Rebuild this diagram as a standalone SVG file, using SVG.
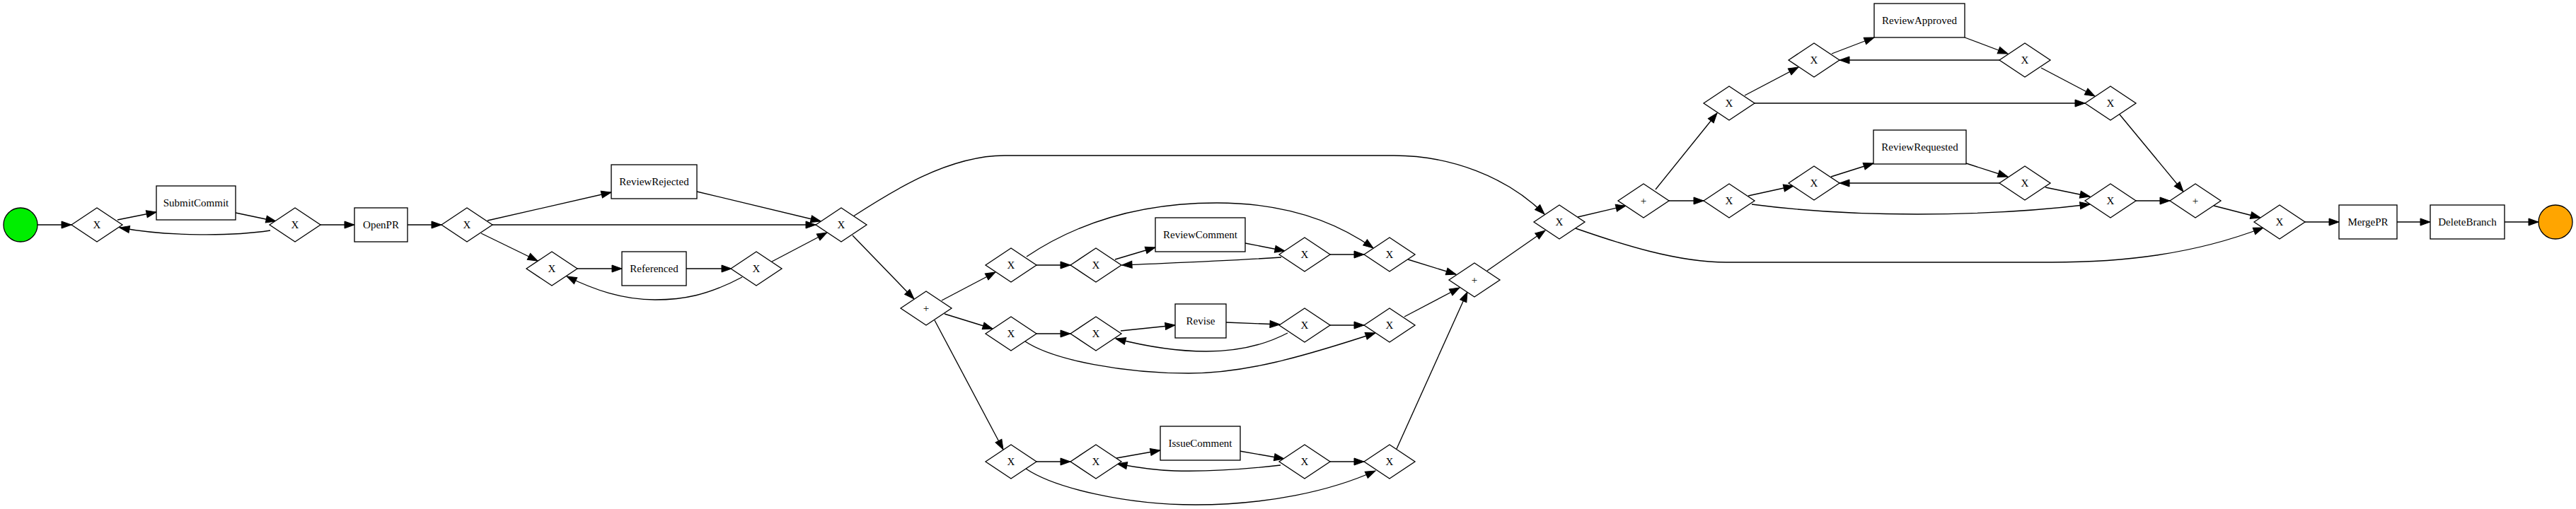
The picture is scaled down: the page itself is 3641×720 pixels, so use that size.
<svg xmlns="http://www.w3.org/2000/svg" xmlns:xlink="http://www.w3.org/1999/xlink" width="3641" height="720" viewBox="0 0 3641 720">
<style>
.g polygon,.g rect{fill:#fff;stroke:#000;stroke-width:1.33}
.g use{fill:#fff;stroke:#000;stroke-width:1.33}
.g text{font-family:"Liberation Serif","Times New Roman",serif;font-size:15px;text-anchor:middle;fill:#000}
#edges path{fill:none;stroke:#000;stroke-width:1.33;marker-end:url(#arr)}
</style>
<defs>
<marker id="arr" markerUnits="userSpaceOnUse" markerWidth="16" markerHeight="12" viewBox="-1 -1 16 12" refX="14" refY="5" orient="auto">
<path d="M0,0 L14,5 L0,10 z" fill="#000" stroke="#000" stroke-width="1"/>
</marker>
<polygon id="dia" points="-36,0 0,-24 36,0 0,24"/>
</defs>
<rect width="3641" height="720" fill="#fff"/>
<g id="edges">
<path d="M53,318 L101,318"/>
<path d="M166,311 L221,300"/>
<path d="M333,301 L390,313"/>
<path d="M382,326 C330,334 240,335 169,322"/>
<path d="M453,318 L501,318"/>
<path d="M576,318 L624,318"/>
<path d="M689,312 L864,272"/>
<path d="M696,318 L1153,318"/>
<path d="M680,330 L760,369"/>
<path d="M985,271 L1160,313"/>
<path d="M816,380 L879,380"/>
<path d="M970,380 L1034,380"/>
<path d="M1091,370 L1169,329"/>
<path d="M1049,392 C1000,418 965,424 926,424 C880,424 840,410 801,391"/>
<path d="M1206,306 C1260,271 1340,220 1420,220 L1970,220 C2050,220 2130,250 2183,303"/>
<path d="M1205,333 L1292,423"/>
<path d="M1331,425 L1407,385"/>
<path d="M1335,444 L1403,465"/>
<path d="M1321,453 L1418,636"/>
<path d="M1465,375 L1513,375"/>
<path d="M1576,367 L1633,350"/>
<path d="M1760,344 L1816,355"/>
<path d="M1811,364 C1720,370 1650,372 1586,375"/>
<path d="M1880,360 L1928,360"/>
<path d="M1451,363 C1530,310 1620,287 1720,287 C1820,287 1890,315 1941,351"/>
<path d="M1465,472 L1513,472"/>
<path d="M1584,468 L1661,460"/>
<path d="M1733,456 L1809,459"/>
<path d="M1820,471 C1780,492 1740,497 1705,497 C1660,497 1620,490 1577,479"/>
<path d="M1880,460 L1928,460"/>
<path d="M1449,483 C1490,510 1590,528 1680,528 C1760,528 1840,505 1944,471"/>
<path d="M1465,653 L1513,653"/>
<path d="M1578,648 L1640,637"/>
<path d="M1752,638 L1815,649"/>
<path d="M1810,658 C1750,665 1700,667 1660,666 C1630,665 1600,660 1579,656"/>
<path d="M1880,653 L1928,653"/>
<path d="M1450,663 C1490,690 1590,714 1690,714 C1790,714 1880,695 1944,666"/>
<path d="M1990,367 L2058,388"/>
<path d="M1985,448 L2063,407"/>
<path d="M1974,635 L2074,413"/>
<path d="M2102,383 L2184,326"/>
<path d="M2230,307 L2298,291"/>
<path d="M2227,323 C2290,345 2370,371 2440,371 L2900,371 C3000,371 3100,360 3199,322"/>
<path d="M2340,268 L2427,160"/>
<path d="M2359,284 L2408,284"/>
<path d="M2466,135 L2542,95"/>
<path d="M2480,146 L2947,146"/>
<path d="M2589,76 L2649,53"/>
<path d="M2777,53 L2838,76"/>
<path d="M2826,85 L2600,85"/>
<path d="M2885,96 L2961,136"/>
<path d="M2996,162 L3086,271"/>
<path d="M2471,277 L2535,263"/>
<path d="M2588,250 L2648,231"/>
<path d="M2779,231 L2838,250"/>
<path d="M2826,259 L2600,259"/>
<path d="M2891,265 L2954,278"/>
<path d="M2476,289 C2560,300 2640,303 2710,303 C2800,303 2880,298 2954,289"/>
<path d="M3019,284 L3067,284"/>
<path d="M3129,291 L3195,308"/>
<path d="M3258,314 L3306,314"/>
<path d="M3388,314 L3435,314"/>
<path d="M3540,314 L3588,314"/>
</g>
<g id="start" class="g"><circle cx="29" cy="318" r="24" fill="#00ee00" stroke="#000" stroke-width="1.33"/></g>
<g id="x1" class="g"><use xlink:href="#dia" x="137" y="318"/><text x="137" y="323">X</text></g>
<g id="submitcommit" class="g"><rect x="221" y="263" width="112" height="48"/><text x="277" y="292">SubmitCommit</text></g>
<g id="x2" class="g"><use xlink:href="#dia" x="417" y="318"/><text x="417" y="323">X</text></g>
<g id="openpr" class="g"><rect x="501" y="294" width="75" height="48"/><text x="538.5" y="323">OpenPR</text></g>
<g id="x3" class="g"><use xlink:href="#dia" x="660" y="318"/><text x="660" y="323">X</text></g>
<g id="reviewrejected" class="g"><rect x="864" y="233" width="121" height="48"/><text x="924.5" y="262">ReviewRejected</text></g>
<g id="x4" class="g"><use xlink:href="#dia" x="780" y="380"/><text x="780" y="385">X</text></g>
<g id="referenced" class="g"><rect x="879" y="356" width="91" height="48"/><text x="924.5" y="385">Referenced</text></g>
<g id="x5" class="g"><use xlink:href="#dia" x="1069" y="380"/><text x="1069" y="385">X</text></g>
<g id="x6" class="g"><use xlink:href="#dia" x="1189" y="318"/><text x="1189" y="323">X</text></g>
<g id="p1" class="g"><use xlink:href="#dia" x="1309" y="436"/><text x="1309" y="441">+</text></g>
<g id="xa1" class="g"><use xlink:href="#dia" x="1429" y="375"/><text x="1429" y="380">X</text></g>
<g id="xa2" class="g"><use xlink:href="#dia" x="1549" y="375"/><text x="1549" y="380">X</text></g>
<g id="reviewcomment" class="g"><rect x="1633" y="308" width="127" height="48"/><text x="1696.5" y="337">ReviewComment</text></g>
<g id="xa3" class="g"><use xlink:href="#dia" x="1844" y="360"/><text x="1844" y="365">X</text></g>
<g id="xa4" class="g"><use xlink:href="#dia" x="1964" y="360"/><text x="1964" y="365">X</text></g>
<g id="xb1" class="g"><use xlink:href="#dia" x="1429" y="472"/><text x="1429" y="477">X</text></g>
<g id="xb2" class="g"><use xlink:href="#dia" x="1549" y="472"/><text x="1549" y="477">X</text></g>
<g id="revise" class="g"><rect x="1661" y="430" width="72" height="48"/><text x="1697" y="459">Revise</text></g>
<g id="xb3" class="g"><use xlink:href="#dia" x="1844" y="460"/><text x="1844" y="465">X</text></g>
<g id="xb4" class="g"><use xlink:href="#dia" x="1964" y="460"/><text x="1964" y="465">X</text></g>
<g id="xc1" class="g"><use xlink:href="#dia" x="1429" y="653"/><text x="1429" y="658">X</text></g>
<g id="xc2" class="g"><use xlink:href="#dia" x="1549" y="653"/><text x="1549" y="658">X</text></g>
<g id="issuecomment" class="g"><rect x="1640" y="603" width="113" height="48"/><text x="1696.5" y="632">IssueComment</text></g>
<g id="xc3" class="g"><use xlink:href="#dia" x="1844" y="653"/><text x="1844" y="658">X</text></g>
<g id="xc4" class="g"><use xlink:href="#dia" x="1964" y="653"/><text x="1964" y="658">X</text></g>
<g id="p2" class="g"><use xlink:href="#dia" x="2084" y="396"/><text x="2084" y="401">+</text></g>
<g id="x7" class="g"><use xlink:href="#dia" x="2204" y="314"/><text x="2204" y="319">X</text></g>
<g id="p3" class="g"><use xlink:href="#dia" x="2323" y="284"/><text x="2323" y="289">+</text></g>
<g id="xd1" class="g"><use xlink:href="#dia" x="2444" y="146"/><text x="2444" y="151">X</text></g>
<g id="xd2" class="g"><use xlink:href="#dia" x="2564" y="85"/><text x="2564" y="90">X</text></g>
<g id="reviewapproved" class="g"><rect x="2649" y="5" width="128" height="48"/><text x="2713" y="34">ReviewApproved</text></g>
<g id="xd3" class="g"><use xlink:href="#dia" x="2862" y="85"/><text x="2862" y="90">X</text></g>
<g id="xd4" class="g"><use xlink:href="#dia" x="2983" y="146"/><text x="2983" y="151">X</text></g>
<g id="xe1" class="g"><use xlink:href="#dia" x="2444" y="284"/><text x="2444" y="289">X</text></g>
<g id="xe2" class="g"><use xlink:href="#dia" x="2564" y="259"/><text x="2564" y="264">X</text></g>
<g id="reviewrequested" class="g"><rect x="2648" y="184" width="131" height="48"/><text x="2713.5" y="213">ReviewRequested</text></g>
<g id="xe3" class="g"><use xlink:href="#dia" x="2862" y="259"/><text x="2862" y="264">X</text></g>
<g id="xe4" class="g"><use xlink:href="#dia" x="2983" y="284"/><text x="2983" y="289">X</text></g>
<g id="p4" class="g"><use xlink:href="#dia" x="3103" y="284"/><text x="3103" y="289">+</text></g>
<g id="x8" class="g"><use xlink:href="#dia" x="3222" y="314"/><text x="3222" y="319">X</text></g>
<g id="mergepr" class="g"><rect x="3306" y="290" width="82" height="48"/><text x="3347" y="319">MergePR</text></g>
<g id="deletebranch" class="g"><rect x="3435" y="290" width="105" height="48"/><text x="3487.5" y="319">DeleteBranch</text></g>
<g id="end" class="g"><circle cx="3612" cy="314" r="24" fill="#ffa500" stroke="#000" stroke-width="1.33"/></g>
</svg>
